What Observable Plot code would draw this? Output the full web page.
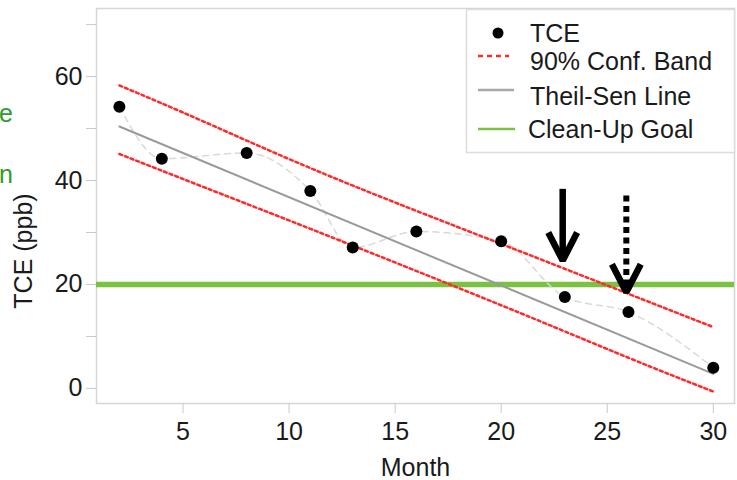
<!DOCTYPE html>
<html>
<head>
<meta charset="utf-8">
<script src="https://cdn.jsdelivr.net/npm/d3@7"></script>
<script src="https://cdn.jsdelivr.net/npm/@observablehq/plot@0.6"></script>
<style>
  html, body { margin: 0; padding: 0; background: #fff; }
  #wrap { position: relative; width: 737px; height: 480px; overflow: hidden; font-family: "Liberation Sans", Arial, sans-serif; }
  #overlay { position: absolute; left: 0; top: 0; pointer-events: none; }
</style>
</head>
<body>
<div id="wrap"></div>
<script>
// ---- data ----
const months = [2, 4, 8, 11, 13, 16, 20, 23, 26, 30];
const tce = [54.2, 44.2, 45.3, 38.0, 27.1, 30.2, 28.3, 17.6, 14.7, 4.0];
const bandMonths = [2, 6, 12, 20, 26, 30];
const bandUpper = [58.3, 51.3, 40.7, 27.8, 18.2, 11.8];
const bandLower = [45.1, 38.7, 29.1, 16.0, 5.9, -0.6];
const tsMonths = [2, 30];
const tsValues = [50.4, 2.8];
const goal = 20;
const arrowMonth = [22.9, 25.9];
const arrowFrom = [38.4, 37.1];
const arrowTo = [24.6, 18.5];
const arrowKind = ["solid", "dotted"];
const xTicks = [5, 10, 15, 20, 25, 30];
const yTicks = [0, 10, 20, 30, 40, 50, 60, 70];
const yLabels = [0, 20, 40, 60];
const legendLabels = ["TCE", "90% Conf. Band", "Theil-Sen Line", "Clean-Up Goal"];
const xTitle = "Month";
const yTitle = "TCE (ppb)";

// ---- tables ----
const pts = months.map((m, i) => ({m, v: tce[i]}));
const band = [
  ...bandMonths.map((m, i) => ({m, v: bandUpper[i], k: "upper"})),
  ...bandMonths.map((m, i) => ({m, v: bandLower[i], k: "lower"}))
];
const ts = tsMonths.map((m, i) => ({m, v: tsValues[i]}));
const arrows = arrowMonth.map((m, i) => ({m, y1: arrowFrom[i], y2: arrowTo[i], kind: arrowKind[i]}));
const headDx = 0.68, headDy = 5.4;
const heads = arrows.flatMap((a, i) => [
  {m: a.m - headDx, v: a.y2 + headDy, id: i},
  {m: a.m, v: a.y2, id: i},
  {m: a.m + headDx, v: a.y2 + headDy, id: i}
]);

const FS = 25;
const FONT = "'Liberation Sans', Arial, sans-serif";
const chart = Plot.plot({
  width: 737,
  height: 480,
  marginLeft: 96,
  marginRight: 3,
  marginTop: 8,
  marginBottom: 77,
  style: {fontFamily: FONT, fontSize: FS + "px", background: "#fff"},
  x: {domain: [0.92, 31.0]},
  y: {domain: [-2.9, 73.1]},
  marks: [
    Plot.frame({stroke: "#d6d6d6", strokeWidth: 1.5}),
    Plot.axisY(yTicks, {tickSize: 10, tickFormat: () => "", stroke: "#c8c8c8", label: null}),
    Plot.axisY(yLabels, {tickSize: 0, tickPadding: 14, fontSize: FS, fill: "#1a1a1a", label: null}),
    Plot.axisX(xTicks, {tickSize: 10, tickFormat: () => "", stroke: "#c8c8c8", label: null}),
    Plot.axisX(xTicks, {tickSize: 0, tickPadding: 19, fontSize: FS, fill: "#1a1a1a", label: null}),
    Plot.text([xTitle], {frameAnchor: "bottom", dy: 72, fontSize: FS, fill: "#1a1a1a"}),
    Plot.ruleY([goal], {stroke: "#7cc242", strokeWidth: 5.5}),
    Plot.line(pts, {x: "m", y: "v", stroke: "#d9d9d9", strokeWidth: 1.5, strokeDasharray: "6,5", curve: "monotone-x"}),
    Plot.line(band, {x: "m", y: "v", z: "k", stroke: "#ff2a2a", strokeWidth: 2.5, strokeDasharray: "3,3", curve: "natural"}),
    Plot.line(ts, {x: "m", y: "v", stroke: "#9a9a9a", strokeWidth: 2}),
    Plot.dot(pts, {x: "m", y: "v", r: 6, fill: "#000"}),
    Plot.link(arrows.filter(a => a.kind === "solid"), {x1: "m", x2: "m", y1: "y1", y2: "y2", stroke: "#000", strokeWidth: 6.5}),
    Plot.link(arrows.filter(a => a.kind === "dotted"), {x1: "m", x2: "m", y1: "y1", y2: "y2", stroke: "#000", strokeWidth: 6, strokeDasharray: "6,4.5"}),
    Plot.line(heads, {x: "m", y: "v", z: "id", stroke: "#000", strokeWidth: 6.5, strokeLinejoin: "miter", strokeLinecap: "butt"})
  ]
});

const wrap = document.getElementById("wrap");
wrap.appendChild(chart);

// ---- legend + axis-title overlay ----
const ns = "http://www.w3.org/2000/svg";
const ov = document.createElementNS(ns, "svg");
ov.setAttribute("id", "overlay");
ov.setAttribute("width", 737);
ov.setAttribute("height", 480);
wrap.appendChild(ov);
const sel = d3.select(ov);
sel.append("text").attr("transform", "translate(23,251) rotate(-90)").attr("text-anchor", "middle")
  .attr("dy", "0.36em").attr("font-size", FS).attr("fill", "#1a1a1a").attr("font-family", FONT).text(yTitle);
sel.append("rect").attr("x", 466.5).attr("y", 9.5).attr("width", 268).attr("height", 143)
  .attr("fill", "#fff").attr("stroke", "#dcdcdc").attr("stroke-width", 1.5);
const textY = [33, 61, 96, 129];
const symY = [33, 56, 90, 129];
sel.append("circle").attr("cx", 498).attr("cy", symY[0]).attr("r", 5.5).attr("fill", "#000");
sel.append("line").attr("x1", 478).attr("x2", 509).attr("y1", symY[1]).attr("y2", symY[1])
  .attr("stroke", "#ff2a2a").attr("stroke-width", 2.5).attr("stroke-dasharray", "5,4");
sel.append("line").attr("x1", 478).attr("x2", 514).attr("y1", symY[2]).attr("y2", symY[2])
  .attr("stroke", "#a8a8a8").attr("stroke-width", 2.5);
sel.append("line").attr("x1", 478).attr("x2", 515).attr("y1", symY[3]).attr("y2", symY[3])
  .attr("stroke", "#7cc242").attr("stroke-width", 2.5);
legendLabels.forEach((t, i) => {
  sel.append("text").attr("x", i === 3 ? 528 : 530).attr("y", textY[i]).attr("dy", "0.36em")
    .attr("font-size", FS).attr("fill", "#1a1a1a").attr("font-family", FONT).text(t);
});
// cut-off green annotation letters at the left edge
[["e", 122], ["n", 183]].forEach(([t, y]) => {
  sel.append("text").attr("x", 13).attr("y", y).attr("text-anchor", "end")
    .attr("font-size", FS).attr("fill", "#2f9a2f").attr("font-family", FONT).text(t);
});
</script>
</body>
</html>
